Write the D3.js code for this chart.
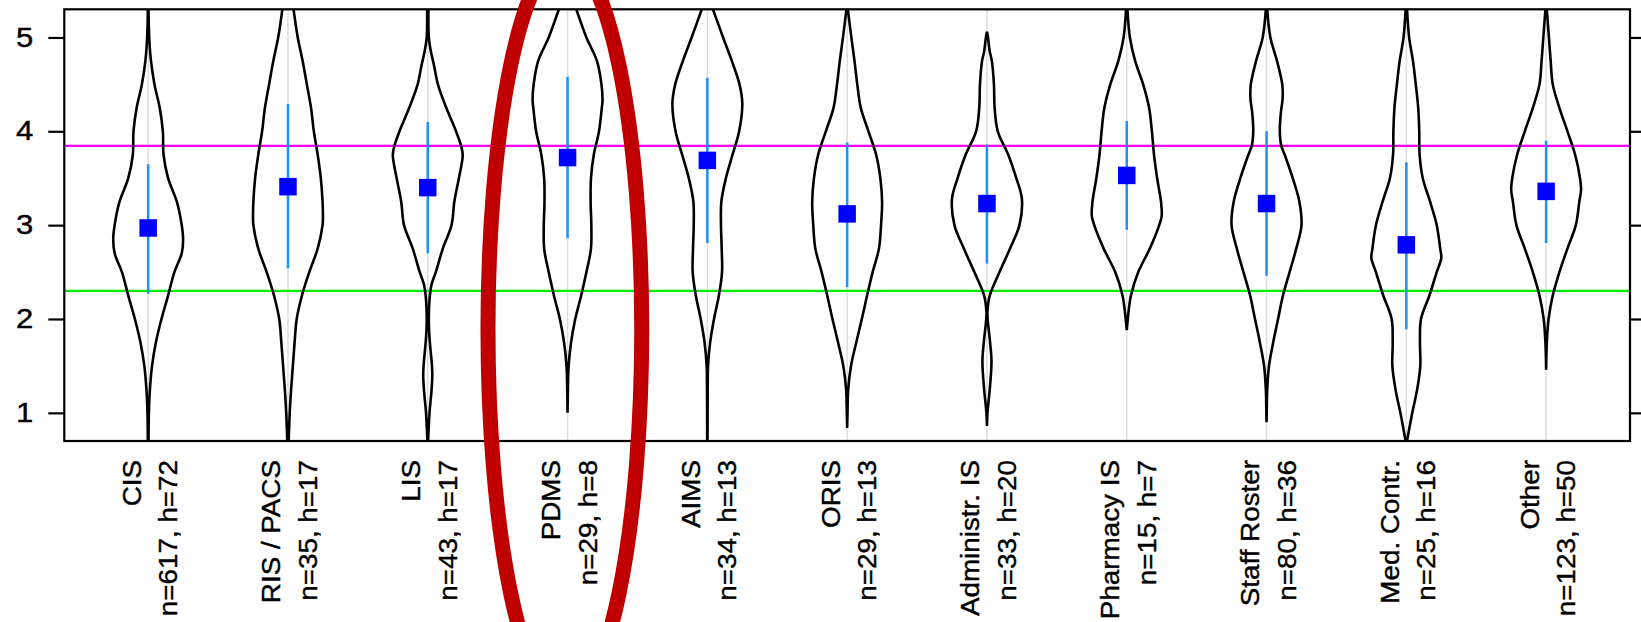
<!DOCTYPE html>
<html>
<head>
<meta charset="utf-8">
<script src="https://cdn.jsdelivr.net/npm/d3@7"></script>
<style>
  body { margin: 0; background: #fff; }
  svg { display: block; font-family: "Liberation Sans", Arial, sans-serif; }
</style>
</head>
<body>
<div id="chart"></div>
<script>
// categories and their counts (shown under each violin)
var categories = ["CIS", "RIS / PACS", "LIS", "PDMS", "AIMS", "ORIS", "Administr. IS", "Pharmacy IS", "Staff Roster", "Med. Contr.", "Other"];
var nValues = [617, 35, 43, 29, 34, 29, 33, 15, 80, 25, 123];
var hValues = [72, 17, 17, 8, 13, 13, 20, 7, 36, 16, 50];

// mean score and interval per category
var means  = [2.97, 3.41, 3.40, 3.72, 3.69, 3.12, 3.23, 3.53, 3.23, 2.79, 3.36];
var ciLow  = [2.27, 2.54, 2.70, 2.86, 2.81, 2.34, 2.59, 2.95, 2.46, 1.89, 2.81];
var ciHigh = [3.65, 4.29, 4.10, 4.58, 4.57, 3.88, 3.86, 4.11, 4.00, 3.67, 3.90];

// reference lines
var upperRef = 3.845;
var lowerRef = 2.30;
var yTicks = [1, 2, 3, 4, 5];
var highlighted = "PDMS";

// violin outlines: [score, relative half width]
var densities = [
  [[5.3,.01],[5.0,.03],[4.75,.08],[4.5,.18],[4.25,.33],[4.0,.42],[3.75,.44],[3.5,.57],[3.25,.82],[3.0,.96],[2.85,1.0],[2.7,.96],[2.5,.75],[2.25,.57],[2.0,.38],[1.75,.22],[1.5,.11],[1.25,.05],[1.0,.02],[0.7,.01]],
  [[5.3,.16],[5.0,.28],[4.75,.42],[4.5,.54],[4.25,.66],[4.0,.74],[3.75,.85],[3.5,.94],[3.25,.99],[3.1,1.0],[3.0,.99],[2.75,.85],[2.5,.61],[2.25,.40],[2.0,.25],[1.75,.19],[1.5,.14],[1.25,.09],[1.0,.05],[0.7,.02]],
  [[5.3,.02],[5.0,.03],[4.87,.08],[4.7,.18],[4.5,.29],[4.25,.53],[4.0,.81],[3.85,.95],[3.75,1.0],[3.5,.89],[3.25,.76],[3.0,.68],[2.75,.43],[2.5,.23],[2.37,.11],[2.25,.06],[2.0,.03],[1.8,.05],[1.5,.12],[1.4,.13],[1.25,.11],[1.0,.05],[0.7,.01]],
  [[5.3,.25],[5.0,.54],[4.75,.84],[4.5,.97],[4.33,1.0],[4.25,.98],[4.0,.90],[3.75,.75],[3.5,.67],[3.25,.66],[3.0,.68],[2.75,.67],[2.5,.54],[2.25,.39],[2.0,.22],[1.75,.10],[1.5,.03],[1.25,.01],[1.0,0]],
  [[5.3,.16],[5.0,.45],[4.75,.70],[4.5,.92],[4.3,1.0],[4.0,.91],[3.75,.72],[3.5,.53],[3.25,.40],[3.0,.39],[2.75,.41],[2.5,.42],[2.25,.33],[2.0,.19],[1.75,.08],[1.5,.02],[1.25,.01],[0.7,.005]],
  [[5.3,.02],[5.0,.12],[4.75,.21],[4.5,.29],[4.25,.39],[4.0,.61],[3.75,.83],[3.5,.95],[3.25,1.0],[3.0,.97],[2.75,.91],[2.5,.73],[2.25,.57],[2.0,.42],[1.75,.26],[1.5,.11],[1.25,.03],[1.0,.01],[0.84,0]],
  [[5.06,0],[5.0,.03],[4.85,.08],[4.75,.14],[4.5,.20],[4.25,.22],[4.0,.31],[3.75,.61],[3.5,.84],[3.28,1.0],[3.0,.93],[2.75,.66],[2.5,.36],[2.25,.08],[2.08,.015],[2.0,.02],[1.75,.09],[1.55,.13],[1.25,.08],[1.0,.015],[0.86,0]],
  [[5.3,.02],[5.0,.09],[4.75,.24],[4.5,.47],[4.25,.64],[4.0,.72],[3.75,.78],[3.5,.87],[3.25,.98],[3.1,1.0],[3.0,.93],[2.75,.66],[2.5,.33],[2.25,.12],[2.0,.03],[1.88,0]],
  [[5.3,.02],[5.0,.11],[4.75,.30],[4.5,.45],[4.35,.46],[4.2,.41],[4.0,.38],[3.85,.42],[3.75,.52],[3.5,.75],[3.25,.94],[3.0,1.0],[2.75,.85],[2.5,.66],[2.25,.47],[2.0,.33],[1.75,.19],[1.5,.07],[1.25,.02],[1.0,.005],[0.9,0]],
  [[5.3,.02],[5.0,.08],[4.75,.19],[4.5,.27],[4.25,.34],[4.0,.37],[3.75,.38],[3.5,.47],[3.25,.68],[3.0,.87],[2.75,.97],[2.65,1.0],[2.5,.87],[2.25,.66],[2.0,.42],[1.75,.39],[1.5,.40],[1.25,.31],[1.0,.17],[0.7,.02]],
  [[5.3,.02],[5.0,.08],[4.75,.13],[4.5,.19],[4.25,.38],[4.0,.61],[3.75,.83],[3.5,.97],[3.38,1.0],[3.25,.95],[3.0,.85],[2.75,.61],[2.5,.38],[2.25,.19],[2.0,.07],[1.75,.02],[1.46,0]]
];

var width = 1641, height = 622;
var margin = {top: 9.3, right: 11, bottom: 181, left: 64.3};

var svg = d3.select("#chart").append("svg")
    .attr("width", width)
    .attr("height", height);

svg.append("rect").attr("width", width).attr("height", height).attr("fill", "#fff");

var x = d3.scaleLinear()
    .domain([0.4, categories.length + 0.6])
    .range([margin.left, width - margin.right]);

var y = d3.scaleLinear()
    .domain([0.7, 5.3])
    .range([height - margin.bottom, margin.top]);

// half width of the widest violin = a quarter of a slot
var w = d3.scaleLinear().domain([0, 1]).range([0, x(1.25) - x(1)]);

svg.append("clipPath").attr("id", "plot-clip")
  .append("rect")
    .attr("x", margin.left).attr("y", margin.top)
    .attr("width", width - margin.left - margin.right)
    .attr("height", height - margin.top - margin.bottom);

var plot = svg.append("g").attr("clip-path", "url(#plot-clip)");

// light guide line through each group
plot.append("g")
  .selectAll("line")
  .data(categories)
  .join("line")
    .attr("x1", (d, i) => x(i + 1)).attr("x2", (d, i) => x(i + 1))
    .attr("y1", y.range()[0]).attr("y2", y.range()[1])
    .attr("stroke", "#dedede")
    .attr("stroke-width", 1.5);

// reference lines
plot.append("line")
    .attr("x1", x.range()[0]).attr("x2", x.range()[1])
    .attr("y1", y(upperRef)).attr("y2", y(upperRef))
    .attr("stroke", "#ff00ff").attr("stroke-width", 2.2);
plot.append("line")
    .attr("x1", x.range()[0]).attr("x2", x.range()[1])
    .attr("y1", y(lowerRef)).attr("y2", y(lowerRef))
    .attr("stroke", "#00ee00").attr("stroke-width", 2.2);

// violins: left edge and right edge drawn as two lines
var edge = d3.line().curve(d3.curveCatmullRom.alpha(0.5));

plot.append("g")
  .selectAll("path")
  .data(densities)
  .join("path")
    .attr("d", function(d, i) {
      var cx = x(i + 1);
      var left = edge(d.map(p => [cx - w(p[1]), y(p[0])]));
      var right = edge(d.map(p => [cx + w(p[1]), y(p[0])]));
      return left + right;
    })
    .attr("fill", "none")
    .attr("stroke", "#000")
    .attr("stroke-width", 2.6);

// intervals
plot.append("g")
  .selectAll("line")
  .data(means)
  .join("line")
    .attr("x1", (d, i) => x(i + 1)).attr("x2", (d, i) => x(i + 1))
    .attr("y1", (d, i) => y(ciLow[i])).attr("y2", (d, i) => y(ciHigh[i]))
    .attr("stroke", "#1e8fff")
    .attr("stroke-width", 2.5);

// means
var sq = 17.5;
plot.append("g")
  .selectAll("rect")
  .data(means)
  .join("rect")
    .attr("x", (d, i) => x(i + 1) - sq / 2)
    .attr("y", d => y(d) - sq / 2)
    .attr("width", sq).attr("height", sq)
    .attr("fill", "#0000ff");

// frame
svg.append("rect")
    .attr("x", margin.left).attr("y", margin.top)
    .attr("width", width - margin.left - margin.right)
    .attr("height", height - margin.top - margin.bottom)
    .attr("fill", "none")
    .attr("stroke", "#000")
    .attr("stroke-width", 2.2);

// y axes (labels on the left only)
var yAxis = svg.append("g")
    .attr("transform", "translate(" + margin.left + ",0)")
    .call(d3.axisLeft(y).tickValues(yTicks).tickSize(16).tickFormat(d3.format("d")));
yAxis.select(".domain").remove();
yAxis.selectAll("line").attr("stroke", "#000").attr("stroke-width", 2.2);
yAxis.selectAll("text")
    .attr("x", 0)
    .attr("transform", "translate(-31,0) scale(1.15,1)")
    .attr("font-family", "Liberation Sans, Arial, sans-serif")
    .attr("font-size", 27)
    .attr("fill", "#000")
    .attr("stroke", "#000")
    .attr("stroke-width", 0.4);

var yAxisRight = svg.append("g")
    .attr("transform", "translate(" + (width - margin.right) + ",0)")
    .call(d3.axisRight(y).tickValues(yTicks).tickSize(16).tickFormat(""));
yAxisRight.select(".domain").remove();
yAxisRight.selectAll("line").attr("stroke", "#000").attr("stroke-width", 2.2);

// category labels, rotated, two lines each
var labelTop = height - margin.bottom + 19;
var labels = svg.append("g")
    .attr("font-size", 26)
    .attr("fill", "#000")
    .attr("stroke", "#000")
    .attr("stroke-width", 0.4)
    .attr("text-anchor", "end");

labels.selectAll("text.name")
  .data(categories)
  .join("text")
    .attr("class", "name")
    .attr("transform", (d, i) => "translate(" + (x(i + 1) - 7.5) + "," + labelTop + ") rotate(-90) scale(1.07,1)")
    .text(d => d);

labels.selectAll("text.count")
  .data(categories)
  .join("text")
    .attr("class", "count")
    .attr("transform", (d, i) => "translate(" + (x(i + 1) + 29) + "," + labelTop + ") rotate(-90) scale(1.07,1)")
    .text((d, i) => "n=" + nValues[i] + ", h=" + hValues[i]);

// red highlight ring around one group
var hi = categories.indexOf(highlighted) + 1;
svg.append("ellipse")
    .attr("cx", x(hi) - 2.7)
    .attr("cy", y(1.89))
    .attr("rx", w(2.2))
    .attr("ry", 372)
    .attr("fill", "none")
    .attr("stroke", "#c00000")
    .attr("stroke-width", 15);
</script>
</body>
</html>
